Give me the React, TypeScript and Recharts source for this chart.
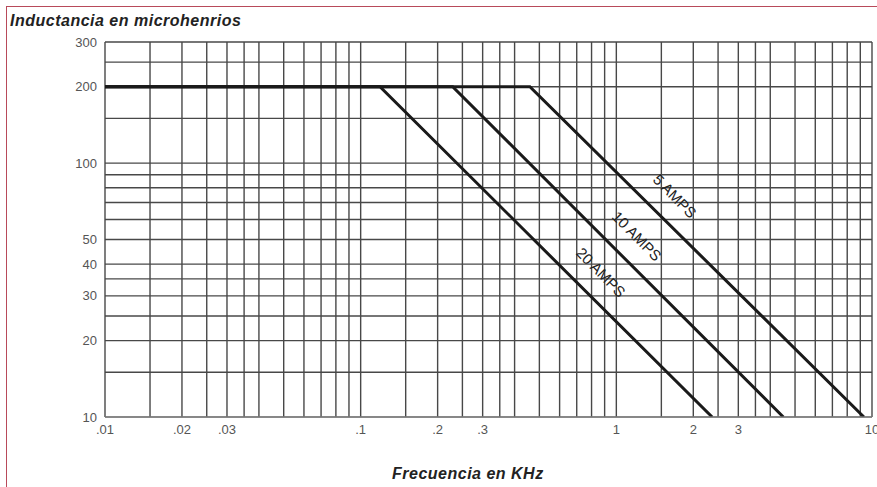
import { LineChart, Line, XAxis, YAxis, CartesianGrid, ReferenceDot } from 'recharts'

// grid lines of the log paper (frequency in KHz, inductance in µH)
const X_GRID = [
  0.01, 0.015, 0.02, 0.025, 0.03, 0.035, 0.04, 0.05, 0.06, 0.07, 0.08, 0.09,
  0.1, 0.15, 0.2, 0.25, 0.3, 0.35, 0.4, 0.5, 0.6, 0.7, 0.8, 0.9,
  1, 1.5, 2, 2.5, 3, 3.5, 4, 5, 6, 7, 8, 9, 10,
]
const X_LABELS: Record<string, string> = {
  '0.01': '.01', '0.02': '.02', '0.03': '.03',
  '0.1': '.1', '0.2': '.2', '0.3': '.3',
  '1': '1', '2': '2', '3': '3', '10': '10',
}
const Y_GRID = [10, 15, 20, 25, 30, 35, 40, 50, 60, 70, 80, 90, 100, 150, 200, 250, 300]
const Y_LABELS = [10, 20, 30, 40, 50, 100, 200, 300]

// curves: flat at 200 µH, then falling
const FREQ_20A = [0.01, 0.119, 2.37]
const IND_20A = [200, 200, 10]
const FREQ_10A = [0.01, 0.229, 4.5]
const IND_10A = [200, 200, 10]
const FREQ_5A = [0.01, 0.459, 9.3]
const IND_5A = [200, 200, 10]

const SERIES_NAMES = ['20 AMPS', '10 AMPS', '5 AMPS']
const LABEL_FREQ = [0.871, 1.204, 1.695]
const LABEL_IND = [37.2, 51.6, 74.2]

const toData = (f: number[], l: number[]) => f.map((v, i) => ({ f: v, l: l[i] }))
const SERIES = [
  toData(FREQ_20A, IND_20A),
  toData(FREQ_10A, IND_10A),
  toData(FREQ_5A, IND_5A),
]

const FONT = '"Liberation Sans", Arial, sans-serif'

const renderAmp = (props: any) => {
  const { viewBox, value } = props
  const cx = viewBox.x + (viewBox.width || 0) / 2
  const cy = viewBox.y + (viewBox.height || 0) / 2
  return (
    <text
      x={cx}
      y={cy}
      transform={`rotate(45.5 ${cx} ${cy})`}
      textAnchor="middle"
      dominantBaseline="central"
      fontFamily={FONT}
      fontSize={15}
      fill="#222"
      style={{ whiteSpace: 'pre' }}
    >
      {value}
    </text>
  )
}

export default function App() {
  return (
    <div style={{ position: 'relative', width: 877, height: 487, background: '#fff' }}>
      <style>{'body{margin:0}'}</style>
      <div
        style={{
          position: 'absolute',
          left: 6,
          top: 6,
          width: 877 - 6,
          height: 487 - 6,
          borderTop: '1.5px solid #b84a5a',
          borderLeft: '1.5px solid #b84a5a',
          boxSizing: 'border-box',
        }}
      />
      <div
        style={{
          position: 'absolute',
          left: 10,
          top: 11,
          fontFamily: FONT,
          fontSize: 16,
          fontWeight: 'bold',
          fontStyle: 'italic',
          letterSpacing: 0.5,
          color: '#222',
          lineHeight: '20px',
        }}
      >
        Inductancia en microhenrios
      </div>
      <div
        style={{
          position: 'absolute',
          left: 392,
          top: 464,
          fontFamily: FONT,
          fontSize: 16,
          fontWeight: 'bold',
          fontStyle: 'italic',
          letterSpacing: 0.5,
          color: '#222',
          lineHeight: '20px',
        }}
      >
        Frecuencia en KHz
      </div>
      <div style={{ position: 'absolute', left: 0, top: 0 }}>
        <LineChart width={877} height={487} margin={{ top: 42, right: 5, bottom: 40, left: 0 }}>
          <CartesianGrid stroke="#484848" strokeWidth={1.4} />
          <XAxis
            dataKey="f"
            type="number"
            scale="log"
            domain={[0.01, 10]}
            allowDataOverflow
            ticks={X_GRID}
            interval={0}
            height={30}
            tickLine={false}
            axisLine={{ stroke: '#999' }}
            tickFormatter={(v: number) => X_LABELS[String(v)] ?? ''}
            tick={{ fill: '#555', fontSize: 13, fontFamily: FONT }}
          />
          <YAxis
            type="number"
            scale="log"
            domain={[10, 300]}
            allowDataOverflow
            ticks={Y_GRID}
            interval={0}
            width={105}
            tickLine={false}
            axisLine={false}
            tickFormatter={(v: number) => (Y_LABELS.includes(v) ? String(v) : '')}
            tick={{ fill: '#555', fontSize: 13, fontFamily: FONT }}
          />
          {SERIES.map((d, i) => (
            <Line
              key={SERIES_NAMES[i]}
              data={d}
              dataKey="l"
              type="linear"
              stroke="#1a1a1a"
              strokeWidth={3}
              dot={false}
              isAnimationActive={false}
            />
          ))}
          {SERIES_NAMES.map((name, i) => (
            <ReferenceDot
              key={name}
              x={LABEL_FREQ[i]}
              y={LABEL_IND[i]}
              r={0}
              fill="none"
              stroke="none"
              label={{ value: name, content: renderAmp }}
            />
          ))}
        </LineChart>
      </div>
    </div>
  )
}
